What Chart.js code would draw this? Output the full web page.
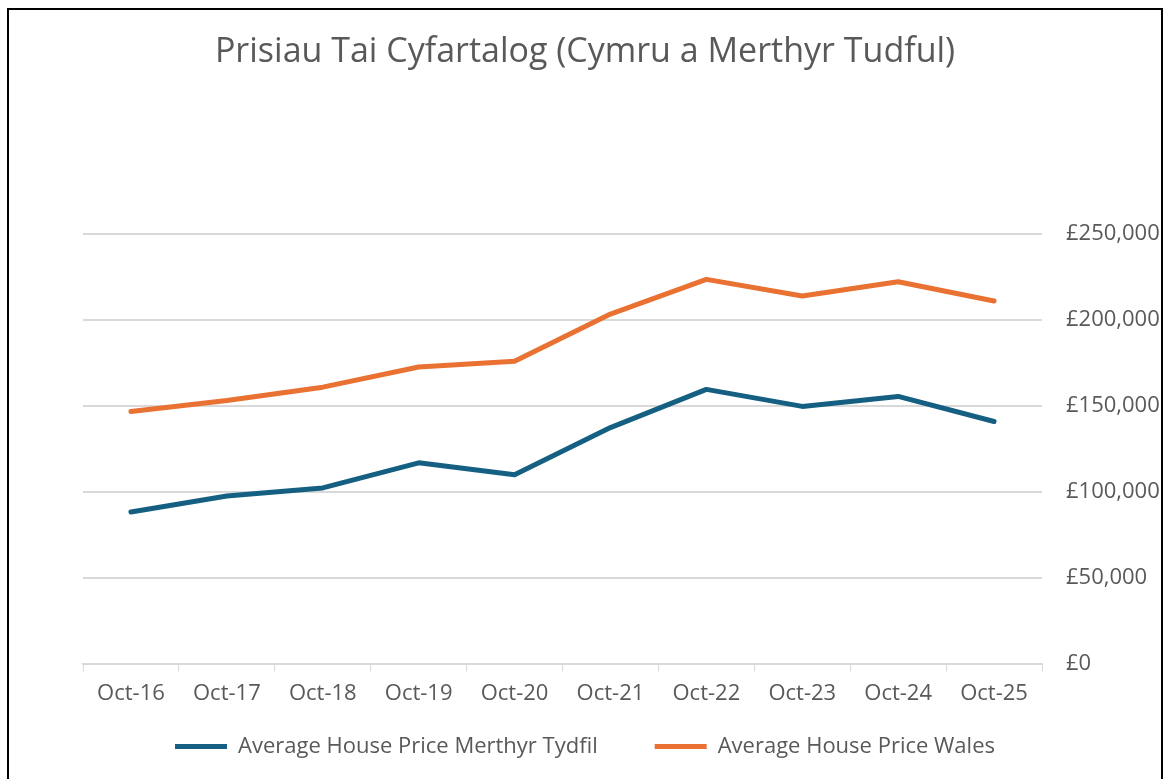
<!DOCTYPE html>
<html>
<head>
<meta charset="utf-8">
<script src="https://cdn.jsdelivr.net/npm/chart.js@4"></script>
<style>
  html, body { margin: 0; padding: 0; background: #fff; overflow: hidden; }
  .chart-box {
    position: absolute; left: 7px; top: 8px;
    width: 1152px; height: 800px;
    border: 2px solid #000; background: #fff;
  }
  .chart-container { position: relative; width: 1152px; height: 769px; }
</style>
</head>
<body>
<div class="chart-box">
  <div class="chart-container"><canvas id="price-chart"></canvas></div>
</div>
<script>
const labels = ['Oct-16', 'Oct-17', 'Oct-18', 'Oct-19', 'Oct-20', 'Oct-21', 'Oct-22', 'Oct-23', 'Oct-24', 'Oct-25'];
const merthyr = [88200, 97500, 102200, 116800, 109800, 137300, 159500, 149600, 155400, 140800];
const wales = [146600, 153000, 160800, 172500, 175800, 203300, 223500, 213800, 222100, 210900];
const yTicks = [0, 50000, 100000, 150000, 200000, 250000];

const grey = '#595959';
const fontFamily = '"Open Sans", Roboto, sans-serif';

// title and legend centred on the whole chart; legend pulled up under the axis
// (its wide item gap also pads it vertically)
const boxTweaks = {
  id: 'boxTweaks',
  afterLayout(chart) {
    [chart.titleBlock, chart.legend].forEach(box => {
      if (box) {
        box.left = 0;
        box.right = chart.width;
      }
    });
    const lg = chart.legend;
    if (lg) {
      const h = lg.bottom - lg.top;
      lg.top = chart.chartArea.bottom + 15;
      lg.bottom = lg.top + h;
    }
  }
};

document.addEventListener('DOMContentLoaded', () => {
  const ctx = document.getElementById('price-chart').getContext('2d');

  new Chart(ctx, {
    type: 'line',
    data: {
      labels: labels,
      datasets: [{
        label: 'Average House Price Merthyr Tydfil',
        data: merthyr,
        borderColor: '#156082',
        backgroundColor: '#156082',
        borderWidth: 5,
        pointRadius: 0,
        pointStyle: 'line',
        tension: 0,
        borderCapStyle: 'round',
        borderJoinStyle: 'round'
      }, {
        label: 'Average House Price Wales',
        data: wales,
        borderColor: '#E97132',
        backgroundColor: '#E97132',
        borderWidth: 5,
        pointRadius: 0,
        pointStyle: 'line',
        tension: 0,
        borderCapStyle: 'round',
        borderJoinStyle: 'round'
      }]
    },
    plugins: [boxTweaks],
    options: {
      responsive: true,
      maintainAspectRatio: false,
      animation: false,
      layout: { padding: { left: 74, right: 0, top: 0, bottom: -26 } },
      scales: {
        x: {
          offset: true,
          grid: {
            display: true,
            drawOnChartArea: false,
            drawTicks: true,
            tickLength: 8,
            color: '#d9d9d9',
            offset: true
          },
          border: { display: true, color: '#d9d9d9', width: 2 },
          ticks: {
            color: grey,
            font: { family: fontFamily, size: 22 },
            padding: 9,
            maxRotation: 0
          }
        },
        y: {
          position: 'right',
          min: 0,
          max: 250000,
          afterBuildTicks: (axis) => { axis.ticks = yTicks.map(v => ({ value: v })); },
          afterFit: (axis) => { axis.width = 119; },
          grid: { color: '#d9d9d9', lineWidth: 2, drawTicks: false },
          border: { display: false },
          ticks: {
            color: grey,
            padding: 24,
            font: { family: fontFamily, size: 22 },
            callback: (value) => '£' + value.toLocaleString('en-GB')
          }
        }
      },
      plugins: {
        title: {
          display: true,
          text: 'Prisiau Tai Cyfartalog (Cymru a Merthyr Tudful)',
          color: grey,
          font: { family: fontFamily, size: 34, weight: 'normal' },
          padding: { top: 22, bottom: 161 }
        },
        legend: {
          position: 'bottom',
          labels: {
            color: grey,
            font: { family: fontFamily, size: 22 },
            usePointStyle: true,
            pointStyleWidth: 52,
            padding: 57
          }
        },
        tooltip: { enabled: false }
      }
    }
  });
});
</script>
</body>
</html>
